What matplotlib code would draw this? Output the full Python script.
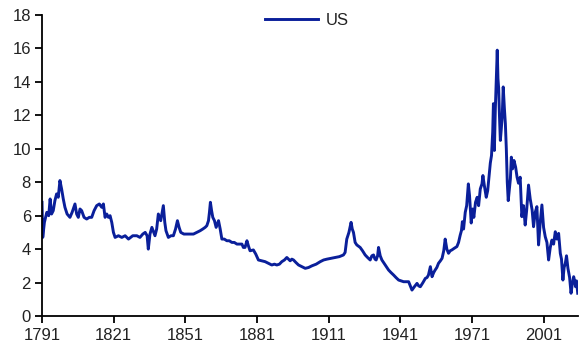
import matplotlib
matplotlib.use('Agg')
import matplotlib.pyplot as plt

# US long-term interest rate (%)
years = [
    1791.0, 1791.3, 1792.0, 1793.0, 1793.8, 1794.4, 1795.0, 1795.7, 1796.4, 1797.1,
    1797.8, 1798.5, 1799.2, 1799.9, 1800.6, 1801.5, 1802.7, 1803.6, 1804.8, 1805.5,
    1806.2, 1806.9, 1807.6, 1808.6, 1809.7, 1810.8, 1811.8, 1812.8, 1813.9, 1815.0,
    1816.0, 1816.7, 1817.4, 1818.1, 1818.8, 1819.5, 1820.2, 1820.9, 1821.6, 1823.0,
    1824.4, 1825.8, 1827.2, 1829.0, 1830.7, 1832.0, 1833.2, 1834.2, 1835.0, 1835.5,
    1836.2, 1837.0, 1838.3, 1839.0, 1839.7, 1840.7, 1841.3, 1841.8, 1842.4, 1842.9,
    1843.9, 1845.0, 1846.0, 1846.9, 1847.7, 1848.4, 1849.1, 1850.4, 1851.6, 1853.0,
    1854.4, 1855.8, 1857.2, 1858.3, 1859.3, 1860.0, 1860.7, 1861.1, 1861.5, 1862.0,
    1862.5, 1863.2, 1863.9, 1864.9, 1865.6, 1866.3, 1867.3, 1868.4, 1869.4, 1870.5,
    1871.5, 1872.6, 1873.6, 1874.7, 1875.3, 1876.0, 1876.8, 1877.4, 1878.1, 1879.5,
    1880.5, 1881.6, 1883.0, 1884.4, 1885.8, 1887.2, 1888.3, 1889.3, 1890.4, 1891.4,
    1892.5, 1893.5, 1894.2, 1894.9, 1895.6, 1896.3, 1897.3, 1898.4, 1899.8, 1901.2,
    1902.6, 1904.0, 1905.8, 1907.5, 1908.9, 1910.3, 1912.0, 1913.7, 1915.5, 1917.2,
    1917.9, 1918.6, 1919.5, 1920.4, 1920.9, 1921.4, 1922.1, 1922.8, 1924.2, 1925.2,
    1926.3, 1927.3, 1928.4, 1929.1, 1929.8, 1930.4, 1930.9, 1931.5, 1931.9, 1932.6,
    1933.3, 1934.0, 1934.7, 1935.4, 1936.1, 1937.1, 1938.2, 1939.2, 1940.3, 1941.3,
    1942.4, 1943.5, 1944.5, 1945.2, 1945.9, 1946.9, 1948.0, 1948.7, 1949.4, 1950.5,
    1951.5, 1952.2, 1952.8, 1953.6, 1954.3, 1955.0, 1955.6, 1956.3, 1957.0, 1957.8,
    1958.5, 1959.2, 1959.8, 1960.5, 1961.2, 1961.9, 1962.6, 1963.6, 1964.7, 1965.4,
    1966.1, 1966.6, 1967.0, 1967.5, 1968.2, 1968.8, 1969.5, 1970.0, 1970.4, 1970.7,
    1971.3, 1971.8, 1972.5, 1973.2, 1973.8, 1974.5, 1975.2, 1975.6, 1976.2, 1977.0,
    1977.6, 1978.2, 1978.7, 1979.2, 1979.7, 1980.0, 1980.2, 1980.4, 1980.8, 1981.1,
    1981.4, 1981.6, 1981.9, 1982.2, 1982.5, 1982.9, 1983.3, 1983.7, 1984.1, 1984.6,
    1985.0, 1985.4, 1985.8, 1986.2, 1986.7, 1987.1, 1987.5, 1988.0, 1988.6, 1989.3,
    1989.9, 1990.5, 1991.2, 1991.9, 1992.6, 1993.3, 1993.9, 1994.7, 1995.4, 1996.2,
    1996.8, 1997.5, 1998.2, 1998.9, 1999.6, 2000.3, 2001.0, 2001.7, 2002.4, 2003.1,
    2003.8, 2004.5, 2005.2, 2005.9, 2006.6, 2007.3, 2008.0, 2008.5, 2009.1, 2009.6,
    2010.1, 2010.6, 2011.2, 2011.9, 2012.5, 2013.0, 2013.6, 2014.0, 2014.4, 2014.8,
    2015.3,
]
yields = [
    6.8, 4.7, 5.6, 6.2, 6.0, 7.0, 6.1, 6.3, 6.9, 7.3,
    7.1, 8.1, 7.6, 7.0, 6.5, 6.1, 5.9, 6.2, 6.7, 6.1,
    5.9, 6.4, 6.3, 5.9, 5.8, 5.9, 5.9, 6.3, 6.6, 6.7,
    6.5, 6.7, 5.9, 6.1, 5.9, 6.0, 5.6, 5.0, 4.7, 4.8,
    4.7, 4.8, 4.6, 4.8, 4.8, 4.7, 4.9, 5.0, 4.8, 4.0,
    4.9, 5.3, 4.8, 5.2, 6.1, 5.7, 6.2, 6.6, 5.6, 5.1,
    4.7, 4.8, 4.8, 5.2, 5.7, 5.3, 5.0, 4.9, 4.9, 4.9,
    4.9, 5.0, 5.1, 5.2, 5.3, 5.4, 5.7, 6.2, 6.8, 6.3,
    5.9, 5.7, 5.3, 5.7, 5.2, 4.6, 4.6, 4.5, 4.5, 4.4,
    4.4, 4.3, 4.3, 4.3, 4.1, 4.1, 4.5, 4.2, 3.9, 3.95,
    3.7, 3.35, 3.3, 3.25, 3.15, 3.05, 3.1, 3.05, 3.1, 3.25,
    3.35, 3.5, 3.4, 3.3, 3.4, 3.35, 3.2, 3.05, 2.95, 2.85,
    2.9, 3.0, 3.1, 3.25, 3.35, 3.4, 3.45, 3.5, 3.55, 3.65,
    3.8, 4.6, 5.0, 5.6, 5.2, 5.0, 4.4, 4.25, 4.1, 3.9,
    3.65, 3.5, 3.35, 3.6, 3.65, 3.4, 3.35, 3.6, 4.1, 3.6,
    3.35, 3.2, 3.05, 2.9, 2.75, 2.6, 2.45, 2.3, 2.15, 2.1,
    2.05, 2.05, 2.05, 1.8, 1.55, 1.75, 1.95, 1.8, 1.75, 2.0,
    2.25, 2.3, 2.45, 2.95, 2.35, 2.6, 2.75, 2.9, 3.15, 3.3,
    3.45, 3.9, 4.6, 4.0, 3.75, 3.9, 3.95, 4.05, 4.15, 4.4,
    4.84, 5.1, 5.64, 5.2, 6.2, 6.6, 7.9, 7.2, 6.3, 5.56,
    6.4, 5.9, 6.8, 7.1, 6.6, 7.6, 7.9, 8.4, 7.8, 7.1,
    7.5, 8.4, 9.15, 9.6, 11.0, 12.7, 11.6, 9.9, 12.4, 13.8,
    15.0, 15.9, 14.2, 13.6, 12.1, 10.5, 11.2, 12.0, 13.7, 12.4,
    11.5, 10.0, 8.0, 6.9, 7.6, 8.2, 9.5, 8.8, 9.3, 8.9,
    8.3, 7.94, 8.3, 5.94, 6.6, 5.44, 6.3, 7.83, 7.0, 6.34,
    5.34, 6.2, 6.54, 4.25, 5.6, 6.64, 5.3, 4.74, 4.4, 3.35,
    4.1, 4.54, 4.3, 5.04, 4.6, 4.94, 3.75, 3.4, 2.15, 2.9,
    3.15, 3.6, 2.85, 2.3, 1.36, 1.9, 2.35, 2.1, 1.75, 2.1,
    1.36,
]
x_ticks = [1791, 1821, 1851, 1881, 1911, 1941, 1971, 2001]
y_ticks = [0, 2, 4, 6, 8, 10, 12, 14, 16, 18]

plt.rcParams['font.family'] = ['Liberation Sans', 'DejaVu Sans']

fig = plt.figure(figsize=(5.86, 3.52), dpi=100)
ax = fig.add_axes([0.0717, 0.1023, 0.9146, 0.855])

ax.plot(years, yields, color='#0a1f9a', linewidth=2.1, label='US')

ax.set_xlim(1791, 2015.4)
ax.set_ylim(0, 18)
ax.set_xticks(x_ticks)
ax.set_yticks(y_ticks)

for side in ['top', 'right']:
    ax.spines[side].set_visible(False)
for side in ['left', 'bottom']:
    ax.spines[side].set_linewidth(1.3)
    ax.spines[side].set_color('black')

ax.tick_params(axis='both', direction='out', length=5, width=1.3,
               labelsize=12, labelcolor='#222222')
ax.tick_params(axis='x', pad=4)
ax.tick_params(axis='y', pad=3)

ax.legend(loc='center', bbox_to_anchor=(0.494, 0.983), frameon=False,
          fontsize=12, handlelength=3.2, handletextpad=0.45,
          labelcolor='#222222')

plt.savefig('out.png', dpi=100)
